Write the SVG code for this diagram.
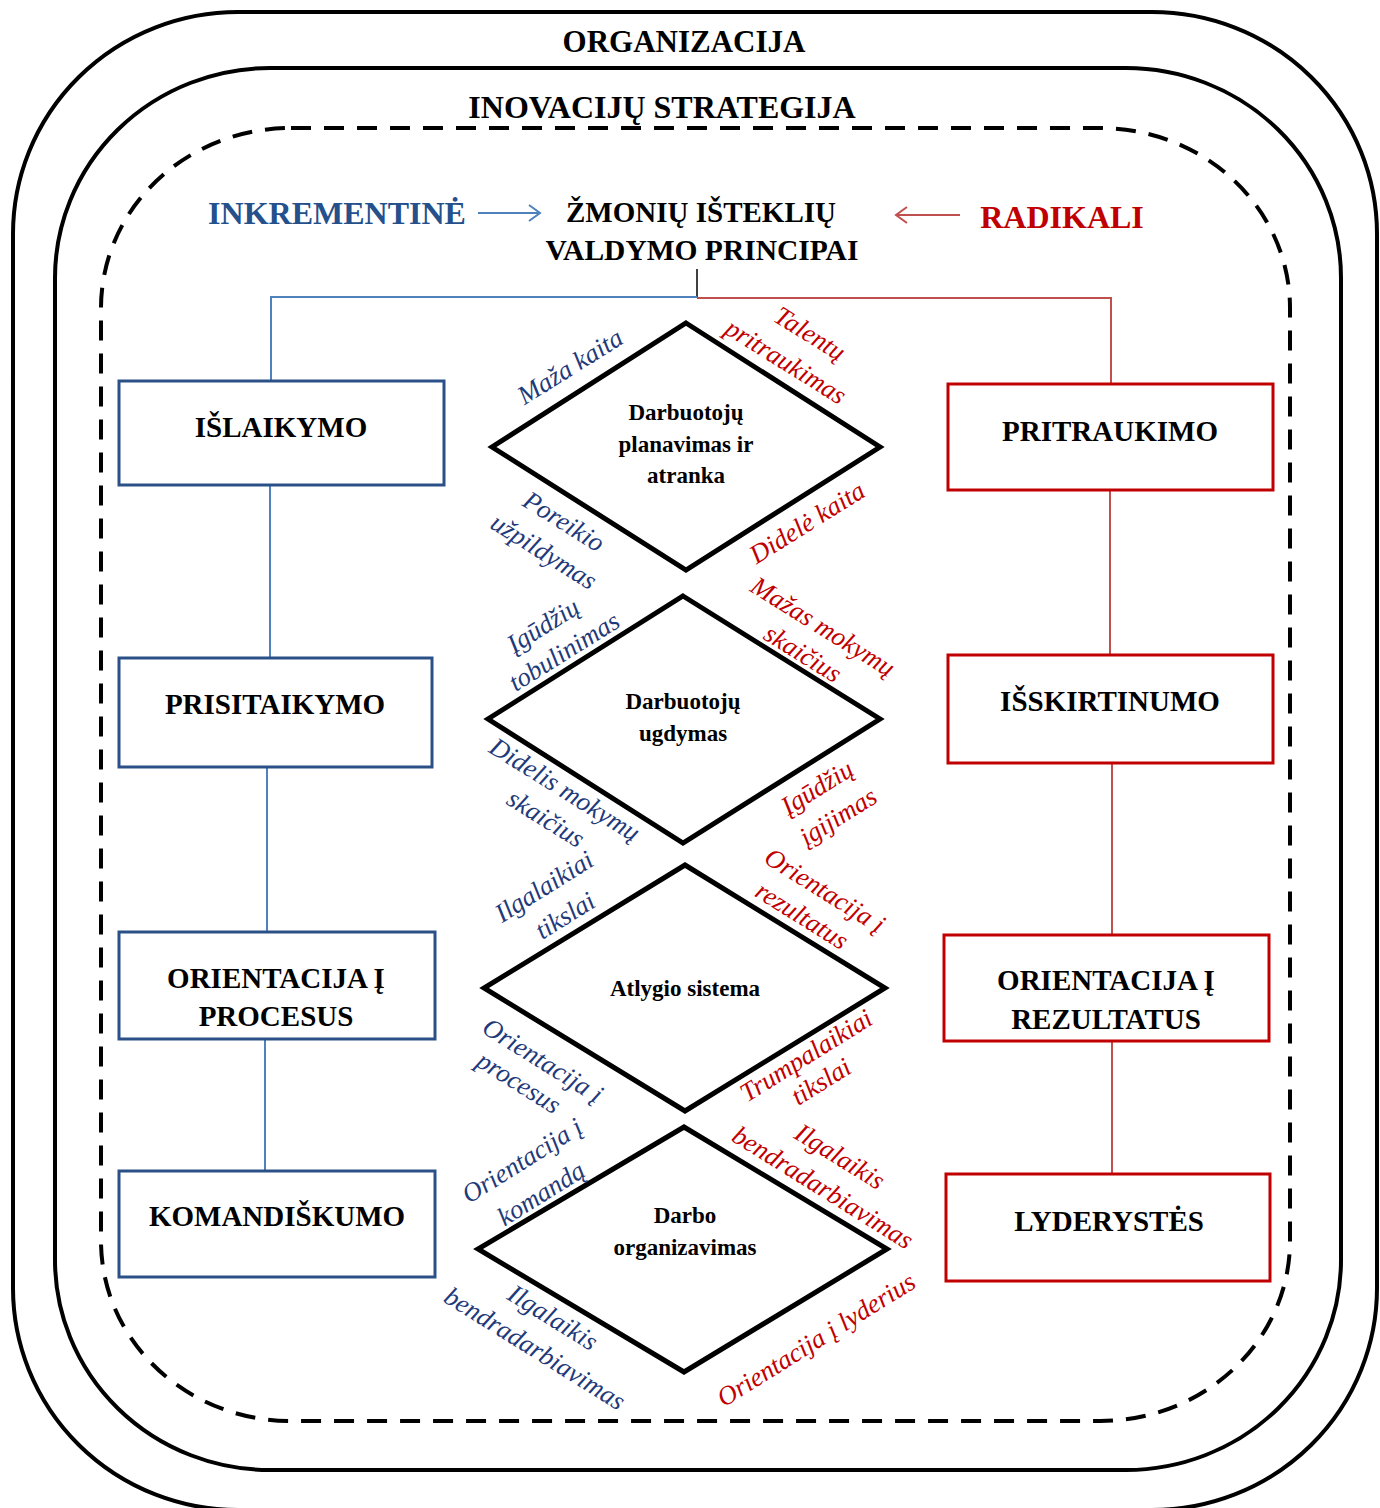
<svg xmlns="http://www.w3.org/2000/svg" width="1380" height="1508" viewBox="0 0 1380 1508">
  <style>
    .hdr { font-family: "Liberation Serif", "Times New Roman", serif; font-weight: bold; text-anchor: middle; }
    .box-b { fill: #ffffff; stroke: #2b5088; stroke-width: 3; }
    .box-r { fill: #ffffff; stroke: #c00000; stroke-width: 3; }
    .blabel { font-family: "Liberation Serif", "Times New Roman", serif; font-weight: bold; font-size: 29px; fill: #000; text-anchor: middle; }
    .dia { fill: #ffffff; stroke: #000; stroke-width: 5; stroke-linejoin: miter; }
    .dtext { font-family: "Liberation Serif", "Times New Roman", serif; font-weight: bold; font-size: 23px; fill: #000; text-anchor: middle; }
    .lb { font-family: "Liberation Serif", "Times New Roman", serif; font-style: italic; font-size: 26.5px; text-anchor: middle; }
    .lb-b { fill: #1f3a7a; }
    .lb-r { fill: #c00000; }
    .ln-b { fill: none; stroke: #4f81bd; stroke-width: 2; }
    .ln-r { fill: none; stroke: #c0504d; stroke-width: 2; }
  </style>
  <defs>
    <marker id="arr-b" markerWidth="14" markerHeight="20" refX="12" refY="10" orient="auto" markerUnits="userSpaceOnUse">
      <path d="M1,2 L12,10 L1,18" fill="none" stroke="#4f81bd" stroke-width="2"/>
    </marker>
    <marker id="arr-r" markerWidth="14" markerHeight="20" refX="12" refY="10" orient="auto" markerUnits="userSpaceOnUse">
      <path d="M1,2 L12,10 L1,18" fill="none" stroke="#c0504d" stroke-width="2"/>
    </marker>
  </defs>

  <rect width="1380" height="1508" fill="#ffffff"/>

  <!-- nested frames -->
  <g id="frame-organizacija">
    <rect x="13" y="12" width="1364" height="1498" rx="225" ry="222" fill="none" stroke="#000" stroke-width="4"/>
    <text class="hdr" x="684" y="52" font-size="31">ORGANIZACIJA</text>
  </g>
  <g id="frame-strategija">
    <rect x="55" y="68" width="1286" height="1402" rx="215" ry="210" fill="none" stroke="#000" stroke-width="4"/>
  </g>
  <g id="frame-principai">
    <rect x="101" y="128" width="1189" height="1293" rx="190" ry="180" fill="none" stroke="#000" stroke-width="4" stroke-dasharray="20 13"/>
  </g>
  <text class="hdr" x="662" y="118" font-size="32">INOVACIJŲ STRATEGIJA</text>

  <!-- heading row -->
  <g id="title-incremental">
    <text class="hdr" x="337" y="224" font-size="32" fill="#24508c">INKREMENTINĖ</text>
  </g>
  <g id="title-center">
    <text class="hdr" x="701" y="222" font-size="29">ŽMONIŲ IŠTEKLIŲ</text>
    <text class="hdr" x="702" y="260" font-size="29.5">VALDYMO PRINCIPAI</text>
  </g>
  <g id="title-radical">
    <text class="hdr" x="1062" y="228" font-size="32" fill="#c00000">RADIKALI</text>
  </g>

  <!-- connectors -->
  <g id="connectors">
    <line x1="478" y1="213" x2="540" y2="213" class="ln-b" marker-end="url(#arr-b)"/>
    <line x1="960" y1="215" x2="896" y2="215" class="ln-r" marker-end="url(#arr-r)"/>
    <line x1="697" y1="269" x2="697" y2="297" stroke="#000" stroke-width="1.5"/>
    <polyline class="ln-b" points="697,297 271,297 271,380"/>
    <polyline class="ln-r" points="697,298 1111,298 1111,383"/>
    <line class="ln-b" x1="270" y1="485" x2="270" y2="658"/>
    <line class="ln-b" x1="267" y1="767" x2="267" y2="932"/>
    <line class="ln-b" x1="265" y1="1039" x2="265" y2="1171"/>
    <line class="ln-r" x1="1110" y1="491" x2="1110" y2="655"/>
    <line class="ln-r" x1="1112" y1="763" x2="1112" y2="935"/>
    <line class="ln-r" x1="1112" y1="1041" x2="1112" y2="1174"/>
  </g>

  <!-- incremental principles -->
  <g id="islaikymo">
    <rect class="box-b" x="119" y="381" width="325" height="104"/>
    <text class="blabel" x="281" y="437">IŠLAIKYMO</text>
  </g>
  <g id="prisitaikymo">
    <rect class="box-b" x="119" y="658" width="313" height="109"/>
    <text class="blabel" x="275" y="714">PRISITAIKYMO</text>
  </g>
  <g id="orientacija-procesus">
    <rect class="box-b" x="119" y="932" width="316" height="107"/>
    <text class="blabel" x="276" y="988">ORIENTACIJA Į</text>
    <text class="blabel" x="276" y="1026">PROCESUS</text>
  </g>
  <g id="komandiskumo">
    <rect class="box-b" x="119" y="1171" width="316" height="106"/>
    <text class="blabel" x="277" y="1226">KOMANDIŠKUMO</text>
  </g>

  <!-- radical principles -->
  <g id="pritraukimo">
    <rect class="box-r" x="948" y="384" width="325" height="106"/>
    <text class="blabel" x="1110" y="441">PRITRAUKIMO</text>
  </g>
  <g id="isskirtinumo">
    <rect class="box-r" x="948" y="655" width="325" height="108"/>
    <text class="blabel" x="1110" y="711">IŠSKIRTINUMO</text>
  </g>
  <g id="orientacija-rezultatus">
    <rect class="box-r" x="944" y="935" width="325" height="106"/>
    <text class="blabel" x="1106" y="990">ORIENTACIJA Į</text>
    <text class="blabel" x="1106" y="1029">REZULTATUS</text>
  </g>
  <g id="lyderystes">
    <rect class="box-r" x="946" y="1174" width="324" height="107"/>
    <text class="blabel" x="1109" y="1231">LYDERYSTĖS</text>
  </g>

  <!-- HR functions -->
  <g id="planavimas">
    <polygon class="dia" points="686,323 880,447 686,570 492,447"/>
    <text class="dtext" x="686" y="420">Darbuotojų</text>
    <text class="dtext" x="686" y="452">planavimas ir</text>
    <text class="dtext" x="686" y="483">atranka</text>
  </g>
  <g id="ugdymas">
    <polygon class="dia" points="683,596 880,719 683,843 488,719"/>
    <text class="dtext" x="683" y="709">Darbuotojų</text>
    <text class="dtext" x="683" y="741">ugdymas</text>
  </g>
  <g id="atlygis">
    <polygon class="dia" points="685,865 885,988 685,1111 484,988"/>
    <text class="dtext" x="685" y="996">Atlygio sistema</text>
  </g>
  <g id="darbo-organizavimas">
    <polygon class="dia" points="684,1127 887,1249 684,1372 478,1249"/>
    <text class="dtext" x="685" y="1223">Darbo</text>
    <text class="dtext" x="685" y="1255">organizavimas</text>
  </g>

  <!-- edge labels -->
  <g id="edge-labels">
    <text class="lb lb-b" transform="translate(571 368) rotate(-32)" y="7">Maža kaita</text>
    <text class="lb lb-r" transform="translate(809 335) rotate(32)" y="7">Talentų</text>
    <text class="lb lb-r" transform="translate(785 363) rotate(32)" y="7">pritraukimas</text>
    <text class="lb lb-b" transform="translate(563 523) rotate(32)" y="7">Poreikio</text>
    <text class="lb lb-b" transform="translate(543 553) rotate(32)" y="7">užpildymas</text>
    <text class="lb lb-r" transform="translate(808 524) rotate(-32)" y="7">Didelė kaita</text>

    <text class="lb lb-b" transform="translate(544 627) rotate(-32)" y="7">Įgūdžių</text>
    <text class="lb lb-b" transform="translate(565 653) rotate(-32)" y="7">tobulinimas</text>
    <text class="lb lb-r" transform="translate(822 628) rotate(32)" y="7">Mažas mokymų</text>
    <text class="lb lb-r" transform="translate(802 655) rotate(32)" y="7">skaičius</text>
    <text class="lb lb-b" transform="translate(564 791) rotate(32)" y="7">Didelis mokymų</text>
    <text class="lb lb-b" transform="translate(545 820) rotate(32)" y="7">skaičius</text>
    <text class="lb lb-r" transform="translate(818 789) rotate(-32)" y="7">Įgūdžių</text>
    <text class="lb lb-r" transform="translate(839 818) rotate(-32)" y="7">įgijimas</text>

    <text class="lb lb-b" transform="translate(545 888) rotate(-32)" y="7">Ilgalaikiai</text>
    <text class="lb lb-b" transform="translate(566 917) rotate(-32)" y="7">tikslai</text>
    <text class="lb lb-r" transform="translate(824 892) rotate(32)" y="7">Orientacija į</text>
    <text class="lb lb-r" transform="translate(801 917) rotate(32)" y="7">rezultatus</text>
    <text class="lb lb-b" transform="translate(542 1062) rotate(32)" y="7">Orientacija į</text>
    <text class="lb lb-b" transform="translate(518 1084) rotate(32)" y="7">procesus</text>
    <text class="lb lb-r" transform="translate(807 1057) rotate(-32)" y="7">Trumpalaikiai</text>
    <text class="lb lb-r" transform="translate(822 1083) rotate(-32)" y="7">tikslai</text>

    <text class="lb lb-b" transform="translate(523 1162) rotate(-32)" y="7">Orientacija į</text>
    <text class="lb lb-b" transform="translate(542 1195) rotate(-32)" y="7">komandą</text>
    <text class="lb lb-r" transform="translate(839 1158) rotate(32)" y="7">Ilgalaikis</text>
    <text class="lb lb-r" transform="translate(822 1189) rotate(32)" y="7">bendradarbiavimas</text>
    <text class="lb lb-b" transform="translate(552 1319) rotate(32)" y="7">Ilgalaikis</text>
    <text class="lb lb-b" transform="translate(534 1350) rotate(32)" y="7">bendradarbiavimas</text>
    <text class="lb lb-r" transform="translate(817 1341) rotate(-32)" y="7">Orientacija į lyderius</text>
  </g>
</svg>
